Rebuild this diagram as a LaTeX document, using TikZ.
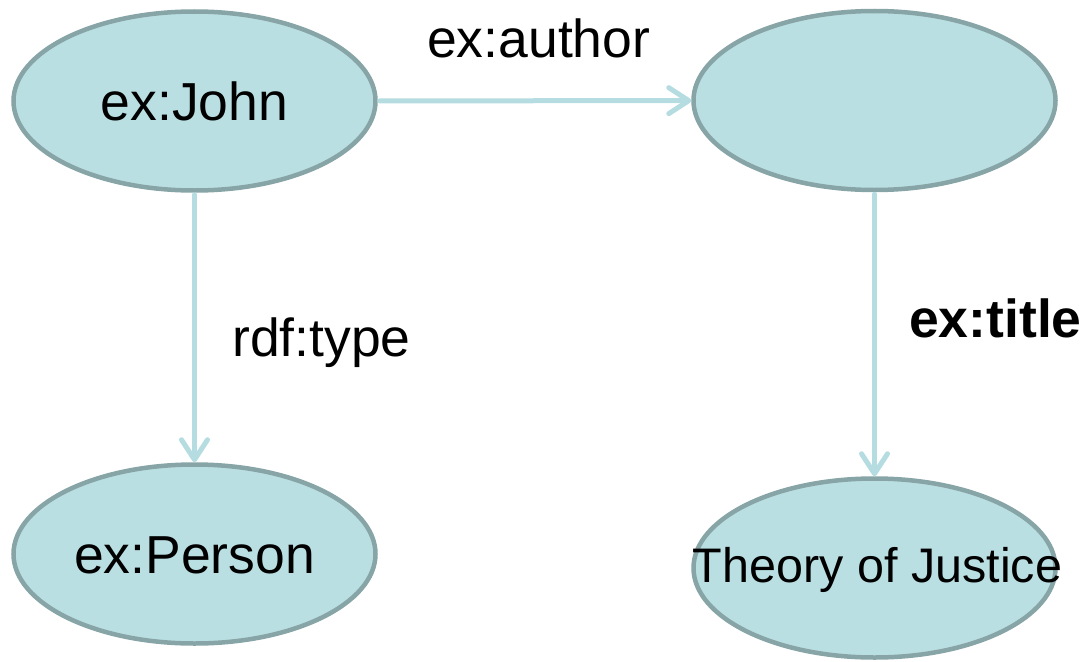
\documentclass[tikz,border=0pt]{standalone}
\usepackage{fontspec}
\setmainfont{Liberation Sans}
\usetikzlibrary{shapes.geometric,arrows.meta}
\definecolor{nodefill}{RGB}{186,223,227}
\definecolor{nodeline}{RGB}{135,164,166}
\definecolor{edgeline}{RGB}{181,221,225}
\tikzset{
  resource/.style={ellipse, draw=nodeline, fill=nodefill, line width=4.5pt,
    minimum width=362pt, minimum height=179pt, inner sep=0pt,
    font=\fontsize{53.5}{60}\selectfont, text height=38pt, text depth=0pt},
  literal/.style={resource, label={[font=\fontsize{48.5}{56}\selectfont,
    text height=35pt, text depth=6pt, inner sep=0pt, xshift=3pt]center:#1}},
  link/.style={draw=edgeline, line width=5pt, line cap=round, line join=round,
    shorten <=2pt, -{Straight Barb[length=20pt,width=26pt,line cap=round,line join=round]}},
  predicate/.style={anchor=base west, inner sep=0pt, font=\fontsize{53.5}{60}\selectfont}
}
\begin{document}
\begin{tikzpicture}[x=1pt,y=-1pt]
  \useasboundingbox (0,0) rectangle (1086,661);
  \node[resource] (john)   at (194.5,101)   {ex:John};
  \node[resource] (book)   at (874.5,100.5) {};
  \node[resource] (person) at (194.5,554)   {ex:Person};
  \node[literal={Theory of Justice}] (title) at (874.5,568) {};

  \draw[link] (john) -- (book);
  \draw[link] (john.south) -- (person.north);
  \draw[link] (book.south) -- (title.north);

  \node[predicate] (lauthor) at (427,57)  {ex:author};
  \node[predicate] (ltype)   at (232,356) {rdf:type};
  \node[predicate, font=\fontsize{53.5}{60}\selectfont\bfseries] (ltitle) at (909,337) {ex:title};
\end{tikzpicture}
\end{document}
